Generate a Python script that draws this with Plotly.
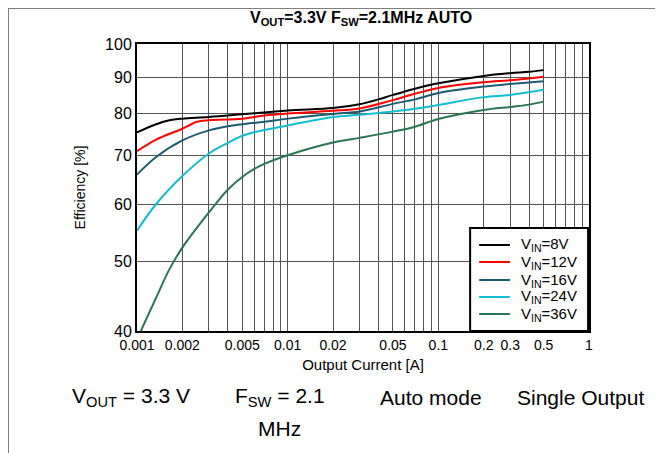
import plotly.graph_objects as go

# output current [A] sample points
i_8v = [0.001, 0.00134, 0.00164, 0.002, 0.003, 0.005, 0.01, 0.02, 0.03, 0.04, 0.05, 0.07, 0.1, 0.2, 0.3, 0.4, 0.5]
eff_8v = [75.4, 77.4, 78.4, 78.8, 79.2, 79.9, 80.9, 81.5, 82.5, 83.8, 85.0, 86.7, 88.2, 90.3, 91.1, 91.5, 92.0]

i_12v = [0.001, 0.00134, 0.002, 0.0025, 0.003, 0.005, 0.007, 0.01, 0.02, 0.03, 0.05, 0.07, 0.1, 0.2, 0.3, 0.5]
eff_12v = [71.0, 73.7, 76.3, 78.0, 78.4, 78.8, 79.6, 80.1, 80.8, 81.4, 83.6, 85.3, 86.9, 88.5, 89.1, 90.1]

i_16v = [0.001, 0.00134, 0.002, 0.003, 0.004, 0.005, 0.007, 0.01, 0.02, 0.03, 0.05, 0.07, 0.1, 0.2, 0.3, 0.5]
eff_16v = [65.9, 69.7, 73.5, 75.9, 76.9, 77.4, 78.0, 78.8, 80.0, 80.6, 82.6, 83.8, 85.5, 87.3, 88.0, 88.8]

i_24v = [0.001, 0.00134, 0.002, 0.003, 0.004, 0.005, 0.007, 0.01, 0.02, 0.03, 0.05, 0.07, 0.1, 0.2, 0.3, 0.5]
eff_24v = [55.1, 60.0, 65.6, 70.5, 72.9, 74.6, 76.0, 77.1, 79.2, 79.8, 80.6, 81.3, 82.3, 84.4, 85.0, 86.4]

i_36v = [0.00106, 0.00134, 0.00164, 0.002, 0.003, 0.004, 0.005, 0.006, 0.007, 0.01, 0.02, 0.03, 0.05, 0.07, 0.1, 0.2, 0.3, 0.4, 0.5]
eff_36v = [40.0, 44.5, 48.7, 52.2, 58.4, 62.8, 65.4, 67.1, 68.2, 70.1, 73.0, 74.1, 75.6, 76.8, 78.7, 81.0, 81.8, 82.4, 83.2]

names = ["V<sub>IN</sub>=8V", "V<sub>IN</sub>=12V", "V<sub>IN</sub>=16V", "V<sub>IN</sub>=24V", "V<sub>IN</sub>=36V"]
colors = ["#000000", "#ff0000", "#1d5c70", "#12bdd0", "#2a7552"]
xs = [i_8v, i_12v, i_16v, i_24v, i_36v]
ys = [eff_8v, eff_12v, eff_16v, eff_24v, eff_36v]

x_ticks = [0.001, 0.002, 0.005, 0.01, 0.02, 0.05, 0.1, 0.2, 0.3, 0.5, 1]
x_labels = ["0.001", "0.002", "0.005", "0.01", "0.02", "0.05", "0.1", "0.2", "0.3", "0.5", "1"]
y_ticks = [40, 50, 60, 70, 80, 90, 100]

fig = go.Figure()
for name, x, y, c in zip(names, xs, ys, colors):
    fig.add_trace(go.Scatter(x=x, y=y, name=name, mode="lines",
                             line=dict(color=c, width=2, shape="spline")))

grid = "#555555"
fig.update_xaxes(type="log", range=[-3, 0], tickvals=x_ticks, ticktext=x_labels,
                 showgrid=True, gridcolor=grid, gridwidth=1,
                 minor=dict(tickvals=[0.003, 0.004, 0.006, 0.007, 0.008, 0.009,
                                      0.03, 0.04, 0.06, 0.07, 0.08, 0.09,
                                      0.4, 0.6, 0.7, 0.8, 0.9],
                            showgrid=True, gridcolor=grid, gridwidth=1),
                 showline=True, linecolor="black", linewidth=2, mirror=True,
                 ticks="", zeroline=False,
                 tickfont=dict(size=14, color="black"),
                 title=dict(text="Output Current [A]", font=dict(size=15, color="black"), standoff=8))
fig.update_yaxes(type="log", range=[1.60206, 2], tickvals=y_ticks,
                 showgrid=True, gridcolor=grid, gridwidth=1,
                 showline=True, linecolor="black", linewidth=2, mirror=True,
                 ticks="", zeroline=False,
                 tickfont=dict(size=16, color="black"),
                 title=dict(text="Efficiency [%]", font=dict(size=14, color="black"), standoff=16))

fig.update_layout(
    width=655, height=445,
    margin=dict(l=129, r=74, t=36, b=122),
    paper_bgcolor="white", plot_bgcolor="white",
    font=dict(family="Liberation Sans, Arial, sans-serif", color="black"),
    title=dict(text="<b>V<sub>OUT</sub>=3.3V F<sub>SW</sub>=2.1MHz AUTO</b>",
               x=0.539, xanchor="center", y=0.98, yanchor="middle",
               font=dict(size=16, color="black")),
    showlegend=False,
)

# legend drawn by hand (tighter rows than plotly's own legend)
fig.add_shape(type="rect", xref="paper", yref="paper", x0=0.737, x1=0.998, y0=0.0, y1=0.359,
              fillcolor="white", line=dict(color="black", width=2), layer="above")
row_y = [0.2997, 0.2404, 0.1777, 0.1185, 0.0592]
for name, c, ry in zip(names, colors, row_y):
    fig.add_shape(type="line", xref="paper", yref="paper", x0=0.757, x1=0.825, y0=ry, y1=ry,
                  line=dict(color=c, width=2), layer="above")
    fig.add_annotation(text=name, x=0.845, y=ry, xref="paper", yref="paper",
                       xanchor="left", yanchor="middle", showarrow=False,
                       font=dict(size=15, color="black"))

# bottom caption texts
cap = dict(size=21, color="black")
fig.add_annotation(text="V<sub>OUT</sub> = 3.3 V", x=-0.148, y=-0.23, xref="paper", yref="paper",
                   xanchor="left", yanchor="middle", showarrow=False, font=cap)
fig.add_annotation(text="F<sub>SW</sub> = 2.1", x=0.316, y=-0.23, xref="paper", yref="paper",
                   xanchor="center", yanchor="middle", showarrow=False, font=cap)
fig.add_annotation(text="MHz", x=0.316, y=-0.338, xref="paper", yref="paper",
                   xanchor="center", yanchor="middle", showarrow=False, font=cap)
fig.add_annotation(text="Auto mode", x=0.650, y=-0.23, xref="paper", yref="paper",
                   xanchor="center", yanchor="middle", showarrow=False, font=cap)
fig.add_annotation(text="Single Output", x=0.982, y=-0.23, xref="paper", yref="paper",
                   xanchor="center", yanchor="middle", showarrow=False, font=cap)

# thin page border on top and left
fig.add_shape(type="line", xref="paper", yref="paper", x0=-0.2854, x1=1.1637, y0=1.1254, y1=1.1254,
              line=dict(color="#808080", width=2))
fig.add_shape(type="line", xref="paper", yref="paper", x0=-0.2854, x1=-0.2854, y0=1.1254, y1=-0.425,
              line=dict(color="#808080", width=2))

fig.write_html("out.html")
